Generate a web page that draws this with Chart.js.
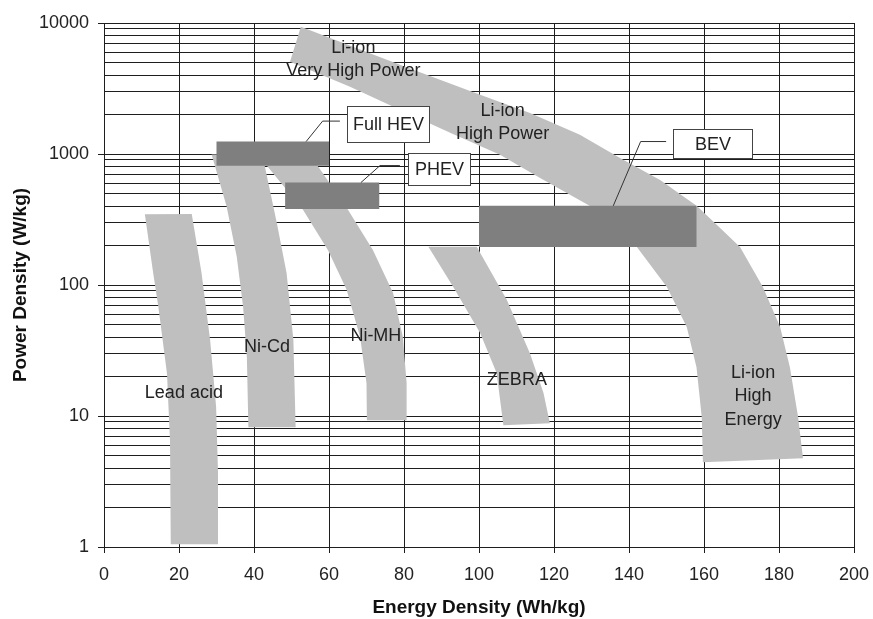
<!DOCTYPE html>
<html><head><meta charset="utf-8">
<script src="https://cdn.jsdelivr.net/npm/chart.js@4/dist/chart.umd.min.js"></script>
<style>html,body{margin:0;padding:0;background:#fff;}</style>
</head><body>
<canvas id="c" width="873" height="619" style="display:block;width:873px;height:619px"></canvas>
<script>
// ---- axis ticks ----
const X_TICKS = [0, 20, 40, 60, 80, 100, 120, 140, 160, 180, 200];
const Y_TICKS = [1,2,3,4,5,6,7,8,9,10,20,30,40,50,60,70,80,90,100,200,300,400,500,600,700,800,900,
                 1000,2000,3000,4000,5000,6000,7000,8000,9000,10000];
const Y_LABELED = [1, 10, 100, 1000, 10000];

// ---- technology regions: [energy Wh/kg, power W/kg] outlines ----
const leadAcid = [[10.9,347],[13.1,124],[14.5,68],[16.8,21],[17.6,6.5],[17.8,1.05],
                  [30.5,1.05],[30.4,3.7],[29.9,11.7],[28.3,38],[26.0,124],[23.4,349]];
const niCd = [[28.7,990],[32.7,397],[35.4,164],[37.1,68],[38.1,28],[38.5,8.2],
              [51.1,8.2],[50.5,38],[48.7,123],[46.1,296],[42.9,802],[42.4,990]];
const niMH = [[42.9,850],[53.1,373],[59.7,185],[64.7,92],[68.3,40],[70.0,17.8],[70.1,9.3],
              [80.7,9.3],[80.7,17.8],[79.7,40],[77.1,87],[71.7,185],[65.1,373],[56.5,850]];
const zebra = [[86.5,196],[93.1,97],[100.3,43],[104.7,21.3],[106.5,8.5],
               [118.9,8.8],[117.2,15],[113.6,30],[107.4,77],[100.3,176],[99.4,196]];
const liIon = [[52.5,9370],[78.9,4800],[100.3,2830],[113.6,2060],[126.9,1400],[137.6,934],[148.3,634],
               [158.1,401],[164.3,272],[169.6,195],[175.7,96.5],[180.3,47.8],[182.9,23.6],[185.1,9.8],[186.4,4.76],
               [159.7,4.44],[159.4,9.8],[158.0,23.6],[155.4,47.8],[150.1,96.5],[142.1,195],[135.5,287],
               [129.6,401],[116.3,656],[105.6,985],[92.3,1450],[78.9,2175],[65.6,3260],[49.6,5060]];

// ---- vehicle requirement boxes ----
const fullHEV = [[30,812],[60,812],[60,1245],[30,1245]];
const phev    = [[48.3,381],[73.4,381],[73.4,605],[48.3,605]];
const bev     = [[100,195],[158,195],[158,402],[100,402]];

// ---- region labels: text lines, anchor [energy, power] of first baseline ----
const regionLabelText = [["Li-ion","Very High Power"],["Li-ion","High Power"],["Lead acid"],["Ni-Cd"],["Ni-MH"],["ZEBRA"],["Li-ion","High","Energy"]];
const regionLabelAt   = [[66.5,5930],[106.3,1955],[21.3,13.7],[43.5,30.8],[72.5,37.5],[110.1,17.3],[173.1,19.5]];

// ---- callouts: text, box [x0,x1,yTop,yBottom], leader polyline ----
const calloutText = ["Full HEV","PHEV","BEV"];
const calloutBox  = [[64.9,86.7,2333,1238],[81.0,97.6,1015,578],[151.8,172.7,1557,930]];
const calloutLeader = [[[62.9,1783],[58.3,1783],[53.9,1245]],
                       [[78.9,816],[73.6,816],[68.5,605]],
                       [[149.9,1245],[143.1,1245],[135.8,402]]];

const FONT = '"Liberation Sans", Arial, sans-serif';
const GRID = '#1e1e1e';
const toPts = a => a.map(p => ({x:p[0], y:p[1]}));
const region = (label, pts, color, order) => ({
  label, data: toPts(pts), fill: 'shape', backgroundColor: color, borderWidth: 0,
  pointRadius: 0, pointHoverRadius: 0, showLine: true, order, tension: 0
});

const annot = {
  id: 'annot',
  afterDatasetsDraw(chart) {
    const {ctx, scales: {x, y}} = chart;
    const px = v => x.getPixelForValue(v), py = v => y.getPixelForValue(v);
    ctx.save();
    ctx.font = '18px ' + FONT;
    ctx.fillStyle = '#222';
    ctx.textAlign = 'center';
    ctx.textBaseline = 'alphabetic';
    regionLabelText.forEach((lines, i) => {
      const [ex, ey] = regionLabelAt[i];
      lines.forEach((t, k) => ctx.fillText(t, px(ex), py(ey) + k * 23.3));
    });
    calloutText.forEach((t, i) => {
      const L = calloutLeader[i];
      ctx.beginPath();
      ctx.strokeStyle = '#333'; ctx.lineWidth = 1;
      L.forEach((p, k) => k ? ctx.lineTo(px(p[0]), py(p[1])) : ctx.moveTo(px(p[0]), py(p[1])));
      ctx.stroke();
      const [x0, x1, yt, yb] = calloutBox[i];
      const l = Math.round(px(x0)) + 0.5, r = Math.round(px(x1)) + 0.5;
      const tp = Math.round(py(yt)) + 0.5, bt = Math.round(py(yb)) + 0.5;
      ctx.fillStyle = '#fff';
      ctx.fillRect(l, tp, r - l, bt - tp);
      ctx.strokeStyle = '#444';
      ctx.strokeRect(l, tp, r - l, bt - tp);
      ctx.fillStyle = '#222';
      ctx.textBaseline = 'middle';
      ctx.fillText(t, (l + r) / 2, (tp + bt) / 2 + 1);
      ctx.textBaseline = 'alphabetic';
    });
    ctx.restore();
  }
};

new Chart(document.getElementById('c'), {
  type: 'line',
  data: {
    datasets: [
      region('Lead acid', leadAcid, '#bfbfbf', 2),
      region('Ni-Cd', niCd, '#bfbfbf', 2),
      region('Ni-MH', niMH, '#bfbfbf', 2),
      region('ZEBRA', zebra, '#bfbfbf', 2),
      region('Li-ion', liIon, '#bfbfbf', 2),
      region('Full HEV', fullHEV, '#7f7f7f', 1),
      region('PHEV', phev, '#7f7f7f', 1),
      region('BEV', bev, '#7f7f7f', 1)
    ]
  },
  options: {
    responsive: false, animation: false, devicePixelRatio: 1, events: [],
    layout: {padding: {top: 23, right: 19, left: 0, bottom: 0}},
    plugins: {legend: {display: false}, tooltip: {enabled: false}},
    scales: {
      x: {
        type: 'linear', min: 0, max: 200,
        afterBuildTicks: s => { s.ticks = X_TICKS.map(v => ({value: v})); },
        afterFit: s => { s.height = 72; s.paddingLeft = 0; s.paddingRight = 0; },
        grid: {color: GRID, lineWidth: 1, tickLength: 6, tickColor: GRID},
        border: {color: GRID, width: 1},
        ticks: {autoSkip: false, maxRotation: 0, padding: 11, color: '#222', font: {family: FONT, size: 18}},
        title: {display: true, text: 'Energy Density (Wh/kg)', color: '#111', padding: {top: 0, bottom: 0},
                font: {family: FONT, size: 19, weight: 'bold'}}
      },
      y: {
        type: 'logarithmic', min: 1, max: 10000,
        afterBuildTicks: s => { s.ticks = Y_TICKS.map(v => ({value: v})); },
        afterFit: s => { s.width = 104; s.paddingTop = 0; s.paddingBottom = 0; },
        grid: {color: GRID, lineWidth: 1, tickLength: 6,
               tickColor: c => (c.tick && Y_LABELED.includes(c.tick.value)) ? GRID : 'rgba(0,0,0,0)'},
        border: {color: GRID, width: 1},
        ticks: {autoSkip: false, padding: 9, color: '#222', font: {family: FONT, size: 18},
                callback: v => Y_LABELED.includes(v) ? String(v) : ''},
        title: {display: true, text: 'Power Density (W/kg)', color: '#111', padding: {top: 9, bottom: 0},
                font: {family: FONT, size: 19, weight: 'bold'}}
      }
    }
  },
  plugins: [annot]
});
</script>
</body></html>
